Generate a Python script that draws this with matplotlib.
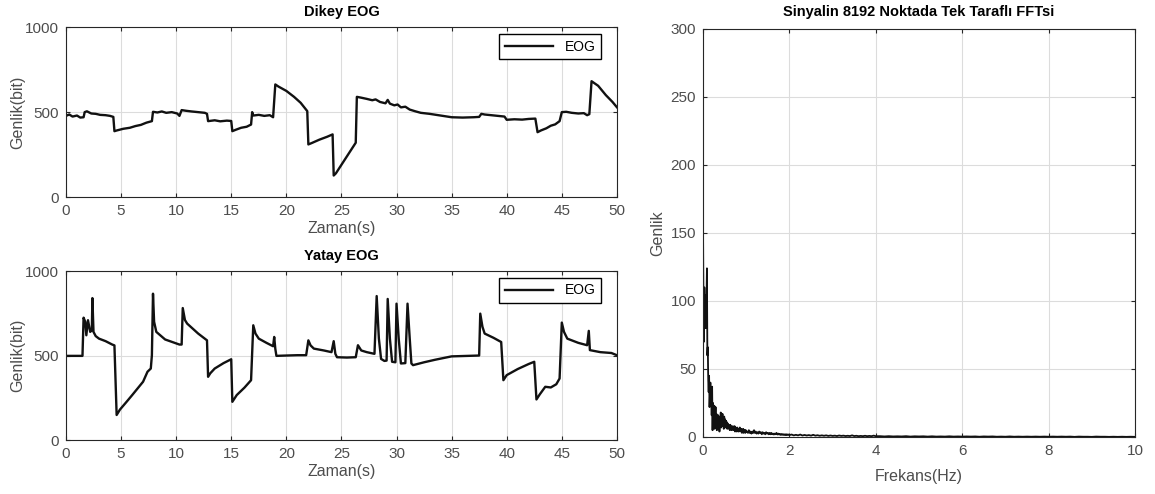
import numpy as np
import matplotlib.pyplot as plt

plt.rcParams['font.family'] = ['Liberation Sans', 'DejaVu Sans']

# Dikey EOG (vertical) - breakpoints
dikey_t = [0, 0.3, 0.6, 1.0, 1.3, 1.6, 1.7, 1.9, 2.3, 2.7, 3.1, 3.6, 4.0, 4.3, 4.4, 4.6, 5.2, 5.8, 6.3, 6.8, 7.3,
           7.8, 7.9, 8.3, 8.7, 9.1, 9.6, 10.1, 10.3, 10.5, 10.9, 11.4, 12.0, 12.6, 12.8, 12.9, 13.5, 14.0, 14.6,
           15.0, 15.1, 15.4, 15.9, 16.4, 16.8, 16.9, 17.0, 17.5, 18.0, 18.5, 18.8, 19.0, 19.3, 20.0, 20.7, 21.3,
           21.9, 22.0, 22.3, 23.0, 23.7, 24.2, 24.3, 24.5, 25.3, 26.0, 26.3, 26.4, 26.8, 27.3, 27.8, 28.1, 28.5,
           29.0, 29.2, 29.4, 29.8, 30.1, 30.4, 30.8, 31.2, 31.7, 32.2, 33.0, 34.0, 35.0, 36.0, 37.0, 37.5, 37.7,
           38.0, 38.6, 39.2, 39.8, 40.0, 40.7, 41.4, 42.0, 42.6, 42.8, 43.1, 43.6, 44.0, 44.4, 44.8, 45.0, 45.4,
           45.9, 46.5, 47.0, 47.3, 47.5, 47.7, 48.3, 49.0, 49.6, 50.0]
dikey_v = [478, 486, 474, 480, 468, 470, 500, 505, 492, 490, 484, 482, 478, 472, 388, 392, 402, 408, 418, 425, 438,
           447, 502, 498, 504, 496, 500, 492, 478, 512, 508, 504, 500, 496, 490, 447, 452, 446, 450,
           448, 388, 396, 408, 414, 427, 500, 480, 484, 478, 482, 470, 663, 650, 625, 590, 555,
           506, 310, 318, 338, 355, 369, 127, 140, 220, 290, 320, 590, 585, 578, 570, 575, 560,
           552, 572, 550, 540, 545, 528, 532, 515, 505, 496, 490, 480, 470, 468, 470, 472, 490,
           486, 482, 478, 474, 455, 458, 456, 460, 462, 382, 392, 405, 420, 428, 447, 500, 502,
           496, 492, 494, 482, 488, 682, 655, 600, 560, 529]

# Yatay EOG (horizontal)
yatay_t = [0, 1.5, 1.6, 1.75, 1.85, 2.0, 2.2, 2.35, 2.4, 2.5, 2.7, 3.0, 3.6, 4.2, 4.4, 4.6, 4.9, 5.5, 6.0, 6.5,
           7.0, 7.4, 7.7, 7.8, 7.9, 8.0, 8.2, 9.0, 10.3, 10.5, 10.6, 10.8, 11.0, 12.0, 12.8, 12.9, 13.1, 13.5,
           14.3, 15.0, 15.1, 15.5, 16.2, 16.8, 17.0, 17.2, 17.5, 18.2, 18.8, 18.9, 19.0, 19.1, 20.0, 21.0, 21.8,
           22.0, 22.2, 22.5, 23.4, 24.1, 24.3, 24.45, 24.6, 25.5, 26.3, 26.5, 26.8, 27.3, 28.0, 28.2, 28.4, 28.6,
           28.9, 29.1, 29.2, 29.4, 29.6, 29.9, 30.0, 30.2, 30.4, 30.8, 31.0, 31.2, 31.35, 31.5, 32.5, 33.5, 35.0,
           37.5, 37.6, 37.8, 38.0, 38.8, 39.5, 39.7, 40.0, 41.0, 42.0, 42.5, 42.7, 43.0, 43.5, 44.0, 44.5, 44.8,
           45.0, 45.2, 45.5, 46.5, 47.3, 47.45, 47.55, 48.5, 49.5, 50.0]
yatay_v = [498, 498, 724, 700, 620, 709, 640, 650, 840, 640, 615, 600, 585, 565, 560, 148, 180, 226, 265, 305,
           345, 404, 423, 502, 866, 700, 640, 595, 565, 565, 781, 710, 689, 630, 590, 374, 395, 423,
           455, 478, 226, 266, 310, 354, 679, 630, 600, 575, 555, 610, 540, 498, 500, 502, 502,
           590, 560, 541, 530, 520, 585, 510, 490, 488, 490, 561, 530, 520, 510, 852, 600, 480,
           468, 470, 835, 600, 463, 460, 807, 600, 453, 455, 807, 600, 453, 443, 460, 475, 495,
           500, 748, 670, 630, 605, 580, 354, 384, 420, 450, 463, 240, 270, 315, 311, 330, 364,
           695, 640, 600, 575, 561, 646, 532, 520, 515, 502]

# Tek tarafli FFT genligi, frekans bolgelerine gore okunan degerler
fft_a_0 = [150, 95, 70, 110, 88, 104, 80, 96, 100, 124, 60, 66, 42, 33, 45, 22, 30, 40, 28, 34,
           16, 37, 5, 25, 20, 12, 23, 6, 15, 22]                      # 0.00 - 0.29 Hz
fft_a_1 = [10, 17, 5, 14, 8, 16, 6, 12, 4, 15, 9, 18, 7, 16, 10, 17, 8, 14, 6, 15,
           9, 13, 7, 12, 8, 11, 6, 10, 7, 9, 6, 8, 5, 9, 6, 8, 5, 7, 6, 8, 5]  # 0.30 - 0.70 Hz
fft_a_2 = [7, 5, 8, 4, 7, 5, 6, 4, 7, 5, 6, 4, 6, 5, 7, 4, 6, 5, 6, 3,
           5, 4, 6, 3, 5, 4, 5, 3, 5, 4]                              # 0.71 - 1.00 Hz
fft_a_3 = [4, 3, 5, 3, 4, 2.5, 4, 3, 5, 3, 4, 2.5, 3.5, 2.5, 4, 3, 3.5, 2, 3.5, 2.5,
           3, 2, 3.5, 2.5, 3, 2, 3, 2, 3, 2, 2.5, 1.8, 2.5, 2, 3, 1.8, 2.5, 1.8, 2.2, 1.5,
           2.2, 1.6, 2, 1.5, 2, 1.4, 2, 1.5, 1.8, 1.4]                # 1.02 - 2.00 Hz
fft_a_4 = [1.8, 1.2, 1.6, 1.2, 1.8, 1.1, 1.5, 1.1, 1.4, 1.0, 1.6, 1.0, 1.3, 0.9, 1.2, 0.9, 1.2, 0.8, 1.1, 0.8,
           1.0, 0.7, 1.1, 0.8, 1.0, 0.7, 0.9, 0.7, 1.2, 0.7, 0.9, 0.6, 0.8, 0.6, 0.9, 0.6, 0.8, 0.6, 1.0, 0.6]  # 2.05 - 4.00 Hz
fft_a_5 = [0.6, 0.4, 0.6, 0.4, 0.5, 0.4, 0.6, 0.3, 0.5, 0.4, 0.5, 0.3, 0.5, 0.3, 0.4, 0.3, 0.5, 0.3, 0.4, 0.3,
           0.4, 0.3, 0.4, 0.2, 0.4, 0.3, 0.4, 0.2, 0.3, 0.2, 0.4, 0.2, 0.3, 0.2, 0.3, 0.2, 0.3, 0.2, 0.3, 0.2,
           0.3, 0.2, 0.3, 0.2, 0.3, 0.1, 0.3, 0.2, 0.2, 0.1, 0.3, 0.2, 0.2, 0.1, 0.2, 0.1, 0.2, 0.1, 0.2, 0.1]  # 4.1 - 10.0 Hz

fft_f = np.concatenate([np.arange(0, 30) / 100, np.arange(30, 71) / 100, np.arange(71, 101) / 100,
                        np.arange(51, 101) * 0.02, np.arange(41, 81) * 0.05, np.arange(41, 101) * 0.1])
fft_a = np.array(fft_a_0 + fft_a_1 + fft_a_2 + fft_a_3 + fft_a_4 + fft_a_5)

fig = plt.figure(figsize=(11.55, 4.94), dpi=100)
fig.patch.set_facecolor('white')

gray = '#4d4d4d'


def style(ax):
    ax.grid(True, color='#dcdcdc', linewidth=0.8)
    ax.set_axisbelow(True)
    ax.tick_params(direction='in', top=True, right=True, labelsize=11, colors='#262626', labelcolor=gray,
                   length=3, pad=5)
    for s in ax.spines.values():
        s.set_color('#262626')
        s.set_linewidth(0.8)


for pos, t, v, title in [([0.0571, 0.601, 0.477, 0.344], dikey_t, dikey_v, 'Dikey EOG'),
                         ([0.0571, 0.1093, 0.477, 0.342], yatay_t, yatay_v, 'Yatay EOG')]:
    ax = fig.add_axes(pos)
    ax.plot(t, v, color='#111111', lw=1.7, label='EOG')
    ax.set_xlim(0, 50)
    ax.set_ylim(0, 1000)
    ax.set_xticks(np.arange(0, 51, 5))
    ax.set_yticks([0, 500, 1000])
    ax.set_title(title, fontsize=10.5, fontweight='bold', pad=8)
    ax.set_xlabel('Zaman(s)', fontsize=11.5, color=gray, labelpad=2)
    ax.set_ylabel('Genlik(bit)', fontsize=11.5, color=gray, labelpad=0)
    style(ax)
    ax.legend(loc='upper right', bbox_to_anchor=(0.971, 0.96), borderaxespad=0, fontsize=10,
              fancybox=False, edgecolor='black', handlelength=3.5, framealpha=1)

ax3 = fig.add_axes([0.6087, 0.1154, 0.374, 0.826])
ax3.plot(fft_f, fft_a, color='#111111', lw=1.3)
ax3.set_xlim(0, 10)
ax3.set_ylim(0, 300)
ax3.set_xticks(np.arange(0, 11, 2))
ax3.set_yticks(np.arange(0, 301, 50))
ax3.set_title('Sinyalin 8192 Noktada Tek Taraflı FFTsi', fontsize=10.5, fontweight='bold', pad=9)
ax3.set_xlabel('Frekans(Hz)', fontsize=11.5, color=gray, labelpad=8)
ax3.set_ylabel('Genlik', fontsize=11.5, color=gray)
style(ax3)

fig.savefig('out.png', dpi=100)
